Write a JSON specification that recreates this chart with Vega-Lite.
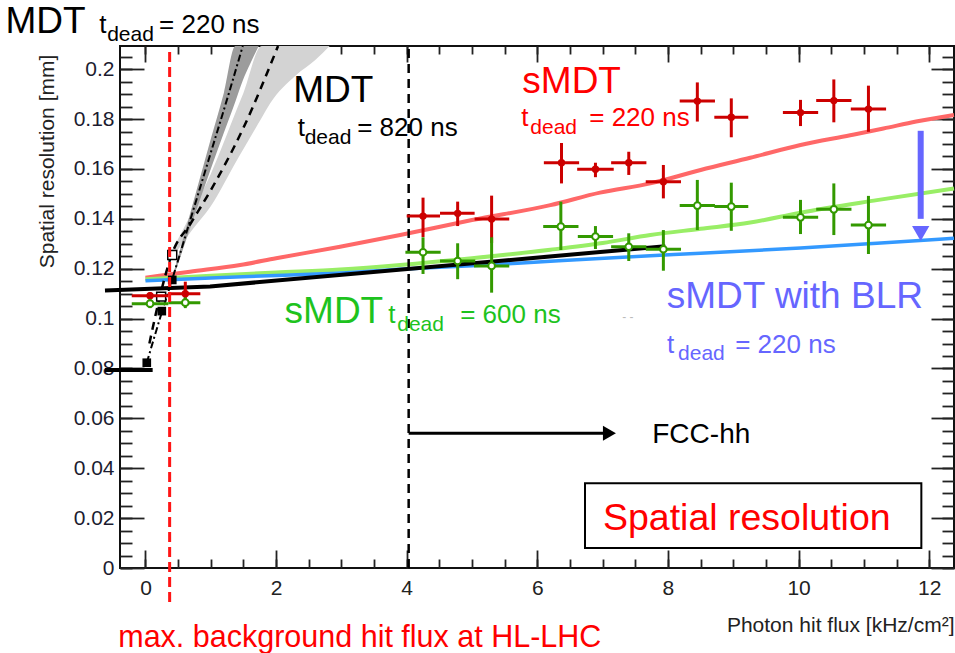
{
  "$schema": "https://vega.github.io/schema/vega-lite/v6.json",
  "width": 834,
  "height": 522,
  "autosize": {"type": "none"},
  "padding": {"left": 120, "top": 46, "right": 1, "bottom": 85},
  "background": "white",
  "config": {
    "view": {"stroke": "#111", "strokeWidth": 2},
    "text": {"font": "Liberation Sans"},
    "axis": {"labelFont": "Liberation Sans", "titleFont": "Liberation Sans", "grid": false, "domain": false, "zindex": 1}
  },
  "resolve": {"axis": {"x": "independent", "y": "independent"}},
  "datasets": {
    "curves": [
      {"s": "red", "x": 0, "y": 0.1164}, {"s": "red", "x": 0.68, "y": 0.1188}, {"s": "red", "x": 1.45, "y": 0.1215},
      {"s": "red", "x": 2.0, "y": 0.1242}, {"s": "red", "x": 2.98, "y": 0.1288}, {"s": "red", "x": 3.9, "y": 0.1335},
      {"s": "red", "x": 5.0, "y": 0.1395}, {"s": "red", "x": 6.2, "y": 0.1455}, {"s": "red", "x": 6.96, "y": 0.1505},
      {"s": "red", "x": 7.73, "y": 0.1542}, {"s": "red", "x": 8.5, "y": 0.1596}, {"s": "red", "x": 9.26, "y": 0.1645},
      {"s": "red", "x": 10.03, "y": 0.1696}, {"s": "red", "x": 10.79, "y": 0.1735}, {"s": "red", "x": 11.3, "y": 0.1762},
      {"s": "red", "x": 11.8, "y": 0.179}, {"s": "red", "x": 12.38, "y": 0.1816},
      {"s": "green", "x": 0, "y": 0.1158}, {"s": "green", "x": 1.0, "y": 0.1172}, {"s": "green", "x": 2.0, "y": 0.1185},
      {"s": "green", "x": 2.98, "y": 0.1197}, {"s": "green", "x": 3.9, "y": 0.1215}, {"s": "green", "x": 5.0, "y": 0.1242},
      {"s": "green", "x": 6.2, "y": 0.1276}, {"s": "green", "x": 7.0, "y": 0.1303}, {"s": "green", "x": 7.73, "y": 0.1335},
      {"s": "green", "x": 8.5, "y": 0.136}, {"s": "green", "x": 9.26, "y": 0.1385}, {"s": "green", "x": 10.03, "y": 0.1425},
      {"s": "green", "x": 11.2, "y": 0.1475}, {"s": "green", "x": 12.38, "y": 0.1522},
      {"s": "blue", "x": 0, "y": 0.1152}, {"s": "blue", "x": 1.0, "y": 0.1163}, {"s": "blue", "x": 2.0, "y": 0.1173},
      {"s": "blue", "x": 2.98, "y": 0.1183}, {"s": "blue", "x": 3.9, "y": 0.1198}, {"s": "blue", "x": 5.0, "y": 0.1212},
      {"s": "blue", "x": 6.2, "y": 0.123}, {"s": "blue", "x": 7.73, "y": 0.1252}, {"s": "blue", "x": 8.5, "y": 0.1262},
      {"s": "blue", "x": 10.03, "y": 0.1283}, {"s": "blue", "x": 11.2, "y": 0.1302}, {"s": "blue", "x": 12.38, "y": 0.1322}
    ],
    "bands": [
      {"b": "A", "x": 0.41, "lo": 0.115, "hi": 0.1165}, {"b": "A", "x": 0.72, "lo": 0.139, "hi": 0.1455},
      {"b": "A", "x": 1.0, "lo": 0.16, "hi": 0.172}, {"b": "A", "x": 1.2, "lo": 0.1745, "hi": 0.1905},
      {"b": "A", "x": 1.377, "lo": 0.187, "hi": 0.2093}, {"b": "A", "x": 1.49, "lo": 0.1955, "hi": 0.2093},
      {"b": "A", "x": 1.6, "lo": 0.202, "hi": 0.2093}, {"b": "A", "x": 1.734, "lo": 0.2093, "hi": 0.2093},
      {"b": "B", "x": 0.4, "lo": 0.124, "hi": 0.127}, {"b": "B", "x": 0.7, "lo": 0.135, "hi": 0.142},
      {"b": "B", "x": 1.0, "lo": 0.145, "hi": 0.158}, {"b": "B", "x": 1.4, "lo": 0.1635, "hi": 0.184},
      {"b": "B", "x": 1.5, "lo": 0.168, "hi": 0.1905}, {"b": "B", "x": 1.78, "lo": 0.1805, "hi": 0.2093},
      {"b": "B", "x": 1.91, "lo": 0.1863, "hi": 0.2093}, {"b": "B", "x": 2.3, "lo": 0.1975, "hi": 0.2093},
      {"b": "B", "x": 2.6, "lo": 0.2037, "hi": 0.2093}, {"b": "B", "x": 2.82, "lo": 0.2093, "hi": 0.2093}
    ],
    "mdtlines": [
      {"l": "A", "x": 0.02, "y": 0.0823}, {"l": "A", "x": 0.25, "y": 0.1025}, {"l": "A", "x": 0.41, "y": 0.1158},
      {"l": "A", "x": 0.72, "y": 0.1425}, {"l": "A", "x": 1.0, "y": 0.1665}, {"l": "A", "x": 1.25, "y": 0.188},
      {"l": "A", "x": 1.49, "y": 0.2093},
      {"l": "B", "x": 0.06, "y": 0.09}, {"l": "B", "x": 0.22, "y": 0.1088}, {"l": "B", "x": 0.4, "y": 0.1255},
      {"l": "B", "x": 0.7, "y": 0.1385}, {"l": "B", "x": 1.0, "y": 0.1515}, {"l": "B", "x": 1.5, "y": 0.1765},
      {"l": "B", "x": 2.03, "y": 0.2093}
    ],
    "black": [
      {"l": "fit", "x": -0.62, "y": 0.1113}, {"l": "fit", "x": 0.99, "y": 0.1129}, {"l": "fit", "x": 7.96, "y": 0.129},
      {"l": "low", "x": -0.62, "y": 0.0794}, {"l": "low", "x": 0.11, "y": 0.0794}
    ],
    "vlines": [
      {"v": "HL-LHC", "x": 0.37, "ylo": -0.0136, "yhi": 0.2077},
      {"v": "FCC", "x": 4.03, "ylo": 0, "yhi": 0.2085}
    ],
    "squares": [
      {"k": "filled", "x": 0.02, "y": 0.0823}, {"k": "filled", "x": 0.25, "y": 0.103}, {"k": "filled", "x": 0.41, "y": 0.1155},
      {"k": "open", "x": 0.24, "y": 0.1088}, {"k": "open", "x": 0.41, "y": 0.1255}
    ],
    "points": [
      {"s": "220", "x": 0.07, "xlo": -0.21, "xhi": 0.35, "y": 0.1092, "ylo": 0.1078, "yhi": 0.1106},
      {"s": "220", "x": 0.61, "xlo": 0.35, "xhi": 0.84, "y": 0.11, "ylo": 0.1055, "yhi": 0.1148},
      {"s": "220", "x": 4.25, "xlo": 4.0, "xhi": 4.51, "y": 0.1411, "ylo": 0.1327, "yhi": 0.1485},
      {"s": "220", "x": 4.78, "xlo": 4.51, "xhi": 5.04, "y": 0.1422, "ylo": 0.1371, "yhi": 0.1469},
      {"s": "220", "x": 5.3, "xlo": 5.04, "xhi": 5.57, "y": 0.1399, "ylo": 0.1303, "yhi": 0.1493},
      {"s": "220", "x": 6.37, "xlo": 6.1, "xhi": 6.64, "y": 0.1625, "ylo": 0.1542, "yhi": 0.1704},
      {"s": "220", "x": 6.89, "xlo": 6.61, "xhi": 7.17, "y": 0.1599, "ylo": 0.1567, "yhi": 0.1625},
      {"s": "220", "x": 7.4, "xlo": 7.13, "xhi": 7.67, "y": 0.1625, "ylo": 0.1576, "yhi": 0.1669},
      {"s": "220", "x": 7.93, "xlo": 7.66, "xhi": 8.2, "y": 0.1549, "ylo": 0.1482, "yhi": 0.1616},
      {"s": "220", "x": 8.45, "xlo": 8.18, "xhi": 8.72, "y": 0.1872, "ylo": 0.179, "yhi": 0.1947},
      {"s": "220", "x": 8.97, "xlo": 8.71, "xhi": 9.23, "y": 0.1807, "ylo": 0.1727, "yhi": 0.1883},
      {"s": "220", "x": 10.03, "xlo": 9.76, "xhi": 10.3, "y": 0.1826, "ylo": 0.1772, "yhi": 0.1877},
      {"s": "220", "x": 10.54, "xlo": 10.27, "xhi": 10.81, "y": 0.1874, "ylo": 0.1787, "yhi": 0.1959},
      {"s": "220", "x": 11.07, "xlo": 10.8, "xhi": 11.34, "y": 0.184, "ylo": 0.1749, "yhi": 0.1934},
      {"s": "600", "x": 0.07, "xlo": -0.21, "xhi": 0.35, "y": 0.106, "ylo": 0.1042, "yhi": 0.1078},
      {"s": "600", "x": 0.61, "xlo": 0.35, "xhi": 0.84, "y": 0.1064, "ylo": 0.1042, "yhi": 0.1085},
      {"s": "600", "x": 4.25, "xlo": 3.98, "xhi": 4.52, "y": 0.1266, "ylo": 0.1179, "yhi": 0.1326},
      {"s": "600", "x": 4.78, "xlo": 4.51, "xhi": 5.05, "y": 0.1231, "ylo": 0.1158, "yhi": 0.1302},
      {"s": "600", "x": 5.3, "xlo": 5.03, "xhi": 5.57, "y": 0.1211, "ylo": 0.1104, "yhi": 0.1326},
      {"s": "600", "x": 6.36, "xlo": 6.09, "xhi": 6.63, "y": 0.1369, "ylo": 0.1275, "yhi": 0.1469},
      {"s": "600", "x": 6.89, "xlo": 6.62, "xhi": 7.16, "y": 0.1329, "ylo": 0.1279, "yhi": 0.1371},
      {"s": "600", "x": 7.4, "xlo": 7.13, "xhi": 7.67, "y": 0.1288, "ylo": 0.1231, "yhi": 0.1342},
      {"s": "600", "x": 7.93, "xlo": 7.66, "xhi": 8.2, "y": 0.1278, "ylo": 0.1192, "yhi": 0.1355},
      {"s": "600", "x": 8.45, "xlo": 8.18, "xhi": 8.72, "y": 0.1453, "ylo": 0.1355, "yhi": 0.1556},
      {"s": "600", "x": 8.97, "xlo": 8.71, "xhi": 9.23, "y": 0.1449, "ylo": 0.1352, "yhi": 0.1545},
      {"s": "600", "x": 10.03, "xlo": 9.76, "xhi": 10.3, "y": 0.1406, "ylo": 0.1339, "yhi": 0.1476},
      {"s": "600", "x": 10.54, "xlo": 10.27, "xhi": 10.81, "y": 0.1438, "ylo": 0.1335, "yhi": 0.1542},
      {"s": "600", "x": 11.07, "xlo": 10.8, "xhi": 11.34, "y": 0.1375, "ylo": 0.1259, "yhi": 0.1492}
    ],
    "arrows": [
      {"a": "FCC", "x": 4.03, "x2": 7.05, "y": 0.054, "y2": 0.054, "hx": 7.104, "hy": 0.054},
      {"a": "BLR", "x": 11.87, "x2": 11.87, "y": 0.1753, "y2": 0.14, "hx": 11.87, "hy": 0.1341}
    ],
    "box": [{"x": 6.73, "x2": 11.88, "y": 0.008, "y2": 0.034}],
    "texts": [
      {"t": "MDT", "x": -2.144, "y": 0.2144, "s": "MDT", "r": "big"},
      {"t": "t", "x": -0.709, "y": 0.2144, "s": "MDT", "r": "mid"},
      {"t": "dead", "x": -0.587, "y": 0.2114, "s": "MDT", "r": "sub"},
      {"t": "= 220 ns", "x": 0.208, "y": 0.2144, "s": "MDT", "r": "mid"},
      {"t": "MDT", "x": 2.262, "y": 0.187, "s": "MDT", "r": "big"},
      {"t": "t", "x": 2.331, "y": 0.1732, "s": "MDT", "r": "mid"},
      {"t": "dead", "x": 2.438, "y": 0.1702, "s": "MDT", "r": "sub"},
      {"t": "= 820 ns", "x": 3.242, "y": 0.1732, "s": "MDT", "r": "mid"},
      {"t": "sMDT", "x": 5.77, "y": 0.1903, "s": "sMDT 220 ns", "r": "big"},
      {"t": "t", "x": 5.754, "y": 0.1772, "s": "sMDT 220 ns", "r": "mid"},
      {"t": "dead", "x": 5.892, "y": 0.1742, "s": "sMDT 220 ns", "r": "sub"},
      {"t": "= 220 ns", "x": 6.795, "y": 0.1772, "s": "sMDT 220 ns", "r": "mid"},
      {"t": "sMDT", "x": 2.13, "y": 0.0982, "s": "sMDT 600 ns", "r": "big"},
      {"t": "t", "x": 3.717, "y": 0.0982, "s": "sMDT 600 ns", "r": "mid"},
      {"t": "dead", "x": 3.855, "y": 0.0952, "s": "sMDT 600 ns", "r": "sub"},
      {"t": "= 600 ns", "x": 4.819, "y": 0.0982, "s": "sMDT 600 ns", "r": "mid"},
      {"t": "sMDT with BLR", "x": 7.98, "y": 0.1041, "s": "BLR", "r": "big"},
      {"t": "t", "x": 7.986, "y": 0.0862, "s": "BLR", "r": "mid"},
      {"t": "dead", "x": 8.155, "y": 0.0832, "s": "BLR", "r": "sub"},
      {"t": "= 220 ns", "x": 9.03, "y": 0.0862, "s": "BLR", "r": "mid"}
    ],
    "notes": [
      {"t": "FCC-hh", "x": 7.76, "y": 0.05, "n": "fcc"},
      {"t": "Spatial resolution", "x": 9.207, "y": 0.0152, "n": "box"},
      {"t": "max. background hit flux at HL-LHC", "x": -0.417, "y": -0.0316, "n": "hl"},
      {"t": "- -", "x": 7.3, "y": 0.1005, "n": "artifact"}
    ]
  },
  "layer": [
    {
      "data": {"name": "bands"},
      "transform": [{"filter": "datum.b === 'B'"}],
      "mark": {"type": "area", "color": "#d3d3d3", "opacity": 1, "interpolate": "monotone"},
      "encoding": {
        "x": {"field": "x", "type": "quantitative", "scale": {"domain": [-0.39, 12.38], "nice": false, "zero": false}, "axis": null},
        "y": {"field": "lo", "type": "quantitative", "scale": {"domain": [0, 0.2093], "nice": false, "zero": false}, "axis": null},
        "y2": {"field": "hi"}
      }
    },
    {
      "data": {"name": "bands"},
      "transform": [{"filter": "datum.b === 'A'"}],
      "mark": {"type": "area", "color": "#9c9c9c", "opacity": 1, "interpolate": "monotone"},
      "encoding": {
        "x": {"field": "x", "type": "quantitative", "scale": {"domain": [-0.39, 12.38], "nice": false, "zero": false}, "axis": null},
        "y": {"field": "lo", "type": "quantitative", "scale": {"domain": [0, 0.2093], "nice": false, "zero": false}, "axis": null},
        "y2": {"field": "hi"}
      }
    },
    {
      "data": {"name": "curves"},
      "transform": [{"filter": "datum.s === 'red'"}],
      "mark": {"type": "line", "color": "#ff6868", "strokeWidth": 4, "interpolate": "monotone"},
      "encoding": {
        "x": {"field": "x", "type": "quantitative", "scale": {"domain": [-0.39, 12.38], "nice": false, "zero": false},
          "axis": {"orient": "bottom", "values": [0, 2, 4, 6, 8, 10, 12], "format": "~g", "tickSize": -18, "tickWidth": 1.8, "tickColor": "#222",
            "labelFontSize": 21, "labelColor": "#222", "labelPadding": 27, "labelFlush": false, "labelOverlap": false, "labelBound": false,
            "title": "Photon hit flux [kHz/cm²]", "titleFontSize": 21, "titleFontWeight": "normal", "titleColor": "#222",
            "titleX": 834, "titleY": 63, "titleAlign": "right", "titleBaseline": "alphabetic", "titleAnchor": "end"}},
        "y": {"field": "y", "type": "quantitative", "scale": {"domain": [0, 0.2093], "nice": false, "zero": false},
          "axis": {"orient": "left", "values": [0, 0.02, 0.04, 0.06, 0.08, 0.1, 0.12, 0.14, 0.16, 0.18, 0.2], "format": "~g", "tickSize": -24, "tickWidth": 1.8, "tickColor": "#222",
            "labelFontSize": 21, "labelColor": "#1c1c30", "labelPadding": 30, "labelFlush": false, "labelOverlap": false, "labelBound": false,
            "title": "Spatial resolution [mm]", "titleFontSize": 21, "titleFontWeight": "normal", "titleColor": "#222",
            "titleX": -73, "titleY": 115, "titleAngle": -90, "titleAlign": "center", "titleBaseline": "middle"}}
      }
    },
    {
      "data": {"name": "curves"},
      "transform": [{"filter": "datum.s === 'green'"}],
      "mark": {"type": "line", "color": "#99ee66", "strokeWidth": 4, "interpolate": "monotone"},
      "encoding": {
        "x": {"field": "x", "type": "quantitative", "scale": {"domain": [-0.39, 12.38], "nice": false, "zero": false},
          "axis": {"orient": "bottom", "values": [0, 0.5, 1, 1.5, 2, 2.5, 3, 3.5, 4, 4.5, 5, 5.5, 6, 6.5, 7, 7.5, 8, 8.5, 9, 9.5, 10, 10.5, 11, 11.5, 12],
            "tickSize": -9, "tickWidth": 1.8, "tickColor": "#222", "labels": false, "title": null}},
        "y": {"field": "y", "type": "quantitative", "scale": {"domain": [0, 0.2093], "nice": false, "zero": false},
          "axis": {"orient": "left", "values": [0, 0.005, 0.01, 0.015, 0.02, 0.025, 0.03, 0.035, 0.04, 0.045, 0.05, 0.055, 0.06, 0.065, 0.07, 0.075, 0.08, 0.085, 0.09, 0.095, 0.1, 0.105, 0.11, 0.115, 0.12, 0.125, 0.13, 0.135, 0.14, 0.145, 0.15, 0.155, 0.16, 0.165, 0.17, 0.175, 0.18, 0.185, 0.19, 0.195, 0.2, 0.205],
            "tickSize": -12, "tickWidth": 1.8, "tickColor": "#222", "labels": false, "title": null}}
      }
    },
    {
      "data": {"name": "curves"},
      "transform": [{"filter": "datum.s === 'blue'"}],
      "mark": {"type": "line", "color": "#3399ff", "strokeWidth": 3.5, "interpolate": "monotone"},
      "encoding": {
        "x": {"field": "x", "type": "quantitative", "scale": {"domain": [-0.39, 12.38], "nice": false, "zero": false},
          "axis": {"orient": "top", "values": [0, 2, 4, 6, 8, 10, 12], "tickSize": -16, "tickWidth": 1.8, "tickColor": "#222", "labels": false, "title": null}},
        "y": {"field": "y", "type": "quantitative", "scale": {"domain": [0, 0.2093], "nice": false, "zero": false},
          "axis": {"orient": "right", "values": [0, 0.02, 0.04, 0.06, 0.08, 0.1, 0.12, 0.14, 0.16, 0.18, 0.2], "tickSize": -23, "tickWidth": 1.8, "tickColor": "#222", "labels": false, "title": null}}
      }
    },
    {
      "data": {"name": "black"},
      "mark": {"type": "line", "color": "#000", "strokeWidth": 4},
      "encoding": {
        "detail": {"field": "l"},
        "x": {"field": "x", "type": "quantitative", "scale": {"domain": [-0.39, 12.38], "nice": false, "zero": false},
          "axis": {"orient": "top", "values": [0, 0.5, 1, 1.5, 2, 2.5, 3, 3.5, 4, 4.5, 5, 5.5, 6, 6.5, 7, 7.5, 8, 8.5, 9, 9.5, 10, 10.5, 11, 11.5, 12],
            "tickSize": -8, "tickWidth": 1.8, "tickColor": "#222", "labels": false, "title": null}},
        "y": {"field": "y", "type": "quantitative", "scale": {"domain": [0, 0.2093], "nice": false, "zero": false},
          "axis": {"orient": "right", "values": [0, 0.005, 0.01, 0.015, 0.02, 0.025, 0.03, 0.035, 0.04, 0.045, 0.05, 0.055, 0.06, 0.065, 0.07, 0.075, 0.08, 0.085, 0.09, 0.095, 0.1, 0.105, 0.11, 0.115, 0.12, 0.125, 0.13, 0.135, 0.14, 0.145, 0.15, 0.155, 0.16, 0.165, 0.17, 0.175, 0.18, 0.185, 0.19, 0.195, 0.2, 0.205],
            "tickSize": -12, "tickWidth": 1.8, "tickColor": "#222", "labels": false, "title": null}}
      }
    },
    {
      "data": {"name": "mdtlines"},
      "transform": [{"filter": "datum.l === 'A'"}],
      "mark": {"type": "line", "color": "#000", "strokeWidth": 2, "strokeDash": [7, 3, 2, 3], "interpolate": "monotone"},
      "encoding": {
        "x": {"field": "x", "type": "quantitative", "scale": {"domain": [-0.39, 12.38], "nice": false, "zero": false}, "axis": null},
        "y": {"field": "y", "type": "quantitative", "scale": {"domain": [0, 0.2093], "nice": false, "zero": false}, "axis": null}
      }
    },
    {
      "data": {"name": "mdtlines"},
      "transform": [{"filter": "datum.l === 'B'"}],
      "mark": {"type": "line", "color": "#000", "strokeWidth": 2.5, "strokeDash": [8, 6], "interpolate": "monotone"},
      "encoding": {
        "x": {"field": "x", "type": "quantitative", "scale": {"domain": [-0.39, 12.38], "nice": false, "zero": false}, "axis": null},
        "y": {"field": "y", "type": "quantitative", "scale": {"domain": [0, 0.2093], "nice": false, "zero": false}, "axis": null}
      }
    },
    {
      "data": {"name": "vlines"},
      "transform": [{"filter": "datum.v === 'FCC'"}],
      "mark": {"type": "rule", "color": "#000", "strokeWidth": 2.5, "strokeDash": [9, 6]},
      "encoding": {
        "x": {"field": "x", "type": "quantitative", "scale": {"domain": [-0.39, 12.38], "nice": false, "zero": false}, "axis": null},
        "y": {"field": "ylo", "type": "quantitative", "scale": {"domain": [0, 0.2093], "nice": false, "zero": false}, "axis": null},
        "y2": {"field": "yhi"}
      }
    },
    {
      "data": {"name": "squares"},
      "transform": [{"filter": "datum.k === 'filled'"}],
      "mark": {"type": "square", "color": "#000", "size": 75, "opacity": 1},
      "encoding": {
        "x": {"field": "x", "type": "quantitative", "scale": {"domain": [-0.39, 12.38], "nice": false, "zero": false}, "axis": null},
        "y": {"field": "y", "type": "quantitative", "scale": {"domain": [0, 0.2093], "nice": false, "zero": false}, "axis": null}
      }
    },
    {
      "data": {"name": "squares"},
      "transform": [{"filter": "datum.k === 'open'"}],
      "mark": {"type": "point", "shape": "square", "filled": true, "fill": "#fff", "stroke": "#000", "strokeWidth": 1.5, "size": 80, "opacity": 1},
      "encoding": {
        "x": {"field": "x", "type": "quantitative", "scale": {"domain": [-0.39, 12.38], "nice": false, "zero": false}, "axis": null},
        "y": {"field": "y", "type": "quantitative", "scale": {"domain": [0, 0.2093], "nice": false, "zero": false}, "axis": null}
      }
    },
    {
      "data": {"name": "points"},
      "transform": [{"filter": "datum.s === '220'"}],
      "mark": {"type": "rule", "color": "#cc0000", "strokeWidth": 3},
      "encoding": {
        "x": {"field": "xlo", "type": "quantitative", "scale": {"domain": [-0.39, 12.38], "nice": false, "zero": false}, "axis": null},
        "x2": {"field": "xhi"},
        "y": {"field": "y", "type": "quantitative", "scale": {"domain": [0, 0.2093], "nice": false, "zero": false}, "axis": null}
      }
    },
    {
      "data": {"name": "points"},
      "transform": [{"filter": "datum.s === '220'"}],
      "mark": {"type": "rule", "color": "#cc0000", "strokeWidth": 3},
      "encoding": {
        "x": {"field": "x", "type": "quantitative", "scale": {"domain": [-0.39, 12.38], "nice": false, "zero": false}, "axis": null},
        "y": {"field": "ylo", "type": "quantitative", "scale": {"domain": [0, 0.2093], "nice": false, "zero": false}, "axis": null},
        "y2": {"field": "yhi"}
      }
    },
    {
      "data": {"name": "points"},
      "transform": [{"filter": "datum.s === '220'"}],
      "mark": {"type": "point", "shape": "circle", "filled": true, "color": "#cc0000", "size": 55, "opacity": 1},
      "encoding": {
        "x": {"field": "x", "type": "quantitative", "scale": {"domain": [-0.39, 12.38], "nice": false, "zero": false}, "axis": null},
        "y": {"field": "y", "type": "quantitative", "scale": {"domain": [0, 0.2093], "nice": false, "zero": false}, "axis": null}
      }
    },
    {
      "data": {"name": "points"},
      "transform": [{"filter": "datum.s === '600'"}],
      "mark": {"type": "rule", "color": "#339900", "strokeWidth": 3},
      "encoding": {
        "x": {"field": "xlo", "type": "quantitative", "scale": {"domain": [-0.39, 12.38], "nice": false, "zero": false}, "axis": null},
        "x2": {"field": "xhi"},
        "y": {"field": "y", "type": "quantitative", "scale": {"domain": [0, 0.2093], "nice": false, "zero": false}, "axis": null}
      }
    },
    {
      "data": {"name": "points"},
      "transform": [{"filter": "datum.s === '600'"}],
      "mark": {"type": "rule", "color": "#339900", "strokeWidth": 3},
      "encoding": {
        "x": {"field": "x", "type": "quantitative", "scale": {"domain": [-0.39, 12.38], "nice": false, "zero": false}, "axis": null},
        "y": {"field": "ylo", "type": "quantitative", "scale": {"domain": [0, 0.2093], "nice": false, "zero": false}, "axis": null},
        "y2": {"field": "yhi"}
      }
    },
    {
      "data": {"name": "points"},
      "transform": [{"filter": "datum.s === '600'"}],
      "mark": {"type": "point", "shape": "circle", "filled": true, "fill": "#fff", "stroke": "#339900", "strokeWidth": 2, "size": 45, "opacity": 1},
      "encoding": {
        "x": {"field": "x", "type": "quantitative", "scale": {"domain": [-0.39, 12.38], "nice": false, "zero": false}, "axis": null},
        "y": {"field": "y", "type": "quantitative", "scale": {"domain": [0, 0.2093], "nice": false, "zero": false}, "axis": null}
      }
    },
    {
      "data": {"name": "vlines"},
      "transform": [{"filter": "datum.v === 'HL-LHC'"}],
      "mark": {"type": "rule", "color": "#ff1515", "strokeWidth": 3, "strokeDash": [10, 5]},
      "encoding": {
        "x": {"field": "x", "type": "quantitative", "scale": {"domain": [-0.39, 12.38], "nice": false, "zero": false}, "axis": null},
        "y": {"field": "ylo", "type": "quantitative", "scale": {"domain": [0, 0.2093], "nice": false, "zero": false}, "axis": null},
        "y2": {"field": "yhi"}
      }
    },
    {
      "data": {"name": "arrows"},
      "transform": [{"filter": "datum.a === 'FCC'"}],
      "mark": {"type": "rule", "color": "#000", "strokeWidth": 3},
      "encoding": {
        "x": {"field": "x", "type": "quantitative", "scale": {"domain": [-0.39, 12.38], "nice": false, "zero": false}, "axis": null},
        "x2": {"field": "x2"},
        "y": {"field": "y", "type": "quantitative", "scale": {"domain": [0, 0.2093], "nice": false, "zero": false}, "axis": null}
      }
    },
    {
      "data": {"name": "arrows"},
      "transform": [{"filter": "datum.a === 'FCC'"}],
      "mark": {"type": "point", "shape": "triangle-right", "filled": true, "color": "#000", "size": 225, "opacity": 1},
      "encoding": {
        "x": {"field": "hx", "type": "quantitative", "scale": {"domain": [-0.39, 12.38], "nice": false, "zero": false}, "axis": null},
        "y": {"field": "hy", "type": "quantitative", "scale": {"domain": [0, 0.2093], "nice": false, "zero": false}, "axis": null}
      }
    },
    {
      "data": {"name": "arrows"},
      "transform": [{"filter": "datum.a === 'BLR'"}],
      "mark": {"type": "rule", "color": "#6666ff", "strokeWidth": 6},
      "encoding": {
        "x": {"field": "x", "type": "quantitative", "scale": {"domain": [-0.39, 12.38], "nice": false, "zero": false}, "axis": null},
        "y": {"field": "y", "type": "quantitative", "scale": {"domain": [0, 0.2093], "nice": false, "zero": false}, "axis": null},
        "y2": {"field": "y2"}
      }
    },
    {
      "data": {"name": "arrows"},
      "transform": [{"filter": "datum.a === 'BLR'"}],
      "mark": {"type": "point", "shape": "triangle-down", "filled": true, "color": "#6666ff", "size": 300, "opacity": 1},
      "encoding": {
        "x": {"field": "hx", "type": "quantitative", "scale": {"domain": [-0.39, 12.38], "nice": false, "zero": false}, "axis": null},
        "y": {"field": "hy", "type": "quantitative", "scale": {"domain": [0, 0.2093], "nice": false, "zero": false}, "axis": null}
      }
    },
    {
      "data": {"name": "box"},
      "mark": {"type": "rect", "filled": false, "stroke": "#000", "strokeWidth": 2, "opacity": 1},
      "encoding": {
        "x": {"field": "x", "type": "quantitative", "scale": {"domain": [-0.39, 12.38], "nice": false, "zero": false}, "axis": null},
        "x2": {"field": "x2"},
        "y": {"field": "y", "type": "quantitative", "scale": {"domain": [0, 0.2093], "nice": false, "zero": false}, "axis": null},
        "y2": {"field": "y2"}
      }
    },
    {
      "data": {"name": "texts"},
      "transform": [{"filter": "datum.r === 'big'"}],
      "mark": {"type": "text", "fontSize": 37, "align": "left", "baseline": "alphabetic"},
      "encoding": {
        "x": {"field": "x", "type": "quantitative", "scale": {"domain": [-0.39, 12.38], "nice": false, "zero": false}, "axis": null},
        "y": {"field": "y", "type": "quantitative", "scale": {"domain": [0, 0.2093], "nice": false, "zero": false}, "axis": null},
        "text": {"field": "t"},
        "color": {"field": "s", "type": "nominal", "legend": null, "scale": {"domain": ["MDT", "sMDT 220 ns", "sMDT 600 ns", "BLR"], "range": ["#000000", "#ff0000", "#1ec31e", "#6666ff"]}}
      }
    },
    {
      "data": {"name": "texts"},
      "transform": [{"filter": "datum.r === 'mid'"}],
      "mark": {"type": "text", "fontSize": 26, "align": "left", "baseline": "alphabetic"},
      "encoding": {
        "x": {"field": "x", "type": "quantitative", "scale": {"domain": [-0.39, 12.38], "nice": false, "zero": false}, "axis": null},
        "y": {"field": "y", "type": "quantitative", "scale": {"domain": [0, 0.2093], "nice": false, "zero": false}, "axis": null},
        "text": {"field": "t"},
        "color": {"field": "s", "type": "nominal", "legend": null, "scale": {"domain": ["MDT", "sMDT 220 ns", "sMDT 600 ns", "BLR"], "range": ["#000000", "#ff0000", "#1ec31e", "#6666ff"]}}
      }
    },
    {
      "data": {"name": "texts"},
      "transform": [{"filter": "datum.r === 'sub'"}],
      "mark": {"type": "text", "fontSize": 21, "align": "left", "baseline": "alphabetic"},
      "encoding": {
        "x": {"field": "x", "type": "quantitative", "scale": {"domain": [-0.39, 12.38], "nice": false, "zero": false}, "axis": null},
        "y": {"field": "y", "type": "quantitative", "scale": {"domain": [0, 0.2093], "nice": false, "zero": false}, "axis": null},
        "text": {"field": "t"},
        "color": {"field": "s", "type": "nominal", "legend": null, "scale": {"domain": ["MDT", "sMDT 220 ns", "sMDT 600 ns", "BLR"], "range": ["#000000", "#ff0000", "#1ec31e", "#6666ff"]}}
      }
    },
    {
      "data": {"name": "notes"},
      "transform": [{"filter": "datum.n === 'fcc'"}],
      "mark": {"type": "text", "fontSize": 28, "align": "left", "baseline": "alphabetic", "color": "#000"},
      "encoding": {
        "x": {"field": "x", "type": "quantitative", "scale": {"domain": [-0.39, 12.38], "nice": false, "zero": false}, "axis": null},
        "y": {"field": "y", "type": "quantitative", "scale": {"domain": [0, 0.2093], "nice": false, "zero": false}, "axis": null},
        "text": {"field": "t"}
      }
    },
    {
      "data": {"name": "notes"},
      "transform": [{"filter": "datum.n === 'box'"}],
      "mark": {"type": "text", "fontSize": 37.5, "align": "center", "baseline": "alphabetic", "color": "#ff0000"},
      "encoding": {
        "x": {"field": "x", "type": "quantitative", "scale": {"domain": [-0.39, 12.38], "nice": false, "zero": false}, "axis": null},
        "y": {"field": "y", "type": "quantitative", "scale": {"domain": [0, 0.2093], "nice": false, "zero": false}, "axis": null},
        "text": {"field": "t"}
      }
    },
    {
      "data": {"name": "notes"},
      "transform": [{"filter": "datum.n === 'hl'"}],
      "mark": {"type": "text", "fontSize": 30.5, "align": "left", "baseline": "alphabetic", "color": "#ff0000"},
      "encoding": {
        "x": {"field": "x", "type": "quantitative", "scale": {"domain": [-0.39, 12.38], "nice": false, "zero": false}, "axis": null},
        "y": {"field": "y", "type": "quantitative", "scale": {"domain": [0, 0.2093], "nice": false, "zero": false}, "axis": null},
        "text": {"field": "t"}
      }
    },
    {
      "data": {"name": "notes"},
      "transform": [{"filter": "datum.n === 'artifact'"}],
      "mark": {"type": "text", "fontSize": 12, "align": "left", "baseline": "middle", "color": "#bbbbbb"},
      "encoding": {
        "x": {"field": "x", "type": "quantitative", "scale": {"domain": [-0.39, 12.38], "nice": false, "zero": false}, "axis": null},
        "y": {"field": "y", "type": "quantitative", "scale": {"domain": [0, 0.2093], "nice": false, "zero": false}, "axis": null},
        "text": {"field": "t"}
      }
    }
  ]
}
